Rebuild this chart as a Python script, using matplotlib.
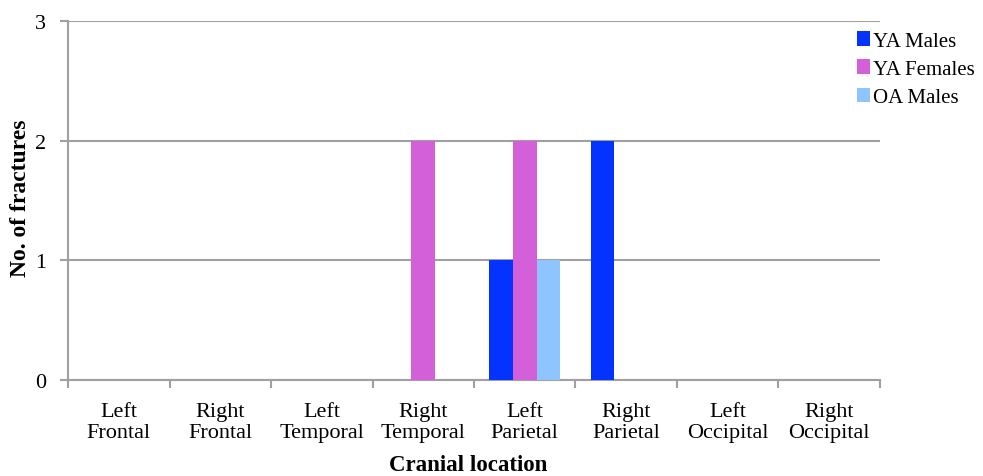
import matplotlib
matplotlib.use("Agg")
import matplotlib.pyplot as plt
import numpy as np

categories = ["Left\nFrontal", "Right\nFrontal", "Left\nTemporal", "Right\nTemporal",
              "Left\nParietal", "Right\nParietal", "Left\nOccipital", "Right\nOccipital"]
series_names = ["YA Males", "YA Females", "OA Males"]
ya_males = [0, 0, 0, 0, 1, 2, 0, 0]
ya_females = [0, 0, 0, 2, 2, 0, 0, 0]
oa_males = [0, 0, 0, 0, 1, 0, 0, 0]
colors = ["#0433FF", "#D35FD9", "#8EC4FF"]

plt.rcParams['font.family'] = ['Liberation Serif', 'DejaVu Serif']
GRID = "#A0A0A0"
FS = 16

fig = plt.figure(figsize=(9.83, 4.77), dpi=100)
ax = fig.add_axes([0.0692, 0.2013, 0.826, 0.7526])

x = np.arange(len(categories))
width = 0.232
for i, (name, vals) in enumerate(zip(series_names, [ya_males, ya_females, oa_males])):
    ax.bar(x + (i - 1) * width, vals, width, color=colors[i], label=name, zorder=3)

ax.set_xlim(-0.5, len(categories) - 0.5)
ax.set_ylim(0, 3)
ax.set_yticks([0, 1, 2, 3])
ax.yaxis.grid(True, color=GRID, linewidth=1.5, zorder=0)

ax.set_xticks(x)
ax.set_xticklabels(categories, fontsize=FS, linespacing=1.15)
ax.tick_params(axis='x', length=0, pad=16)
ax.set_xticks(np.arange(-0.5, len(categories)), minor=True)
ax.tick_params(axis='x', which='minor', length=6, color=GRID, width=1.5)
ax.tick_params(axis='y', length=6, color=GRID, width=1.5, labelsize=FS, pad=10)

for side in ['top', 'right']:
    ax.spines[side].set_visible(False)
for side in ['left', 'bottom']:
    ax.spines[side].set_color(GRID)
    ax.spines[side].set_linewidth(1.5)

ax.set_xlabel("Cranial location", fontsize=16.5, fontweight="bold")
ax.xaxis.set_label_coords(0.493, -0.205)
ax.set_ylabel("No. of fractures", fontsize=17, fontweight="bold")
ax.yaxis.set_label_coords(-0.045, 0.51)

ax.legend(loc='upper left', bbox_to_anchor=(0.962, 0.995), frameon=False,
          fontsize=15, handlelength=0.6, handleheight=0.7, handletextpad=0.15,
          labelspacing=0.42, borderaxespad=0)

fig.savefig("out.png", dpi=100)
